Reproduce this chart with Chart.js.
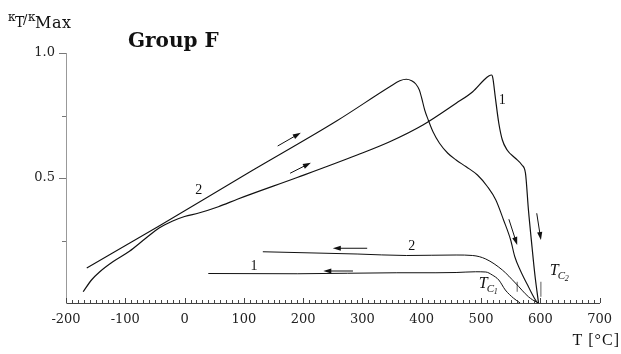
<!DOCTYPE html>
<html>
<head>
<meta charset="utf-8">
<script src="https://cdn.jsdelivr.net/npm/chart.js@4.4.1/dist/chart.umd.min.js"></script>
<style>
  html, body { margin: 0; padding: 0; background: #fff; }
</style>
</head>
<body>
<canvas id="chart" width="621" height="354"></canvas>
<script>
// heating run 1 (T in degC, kappa_T / kappa_max)
const heat1T = [-171, -157, -143, -121, -93, -65, -43, -20, 0, 24, 57, 90, 191, 291, 346, 402, 458, 486, 505, 513, 518, 520, 524, 530, 536, 544, 558, 569, 575, 580, 586, 591, 597];
const heat1K = [0.045, 0.092, 0.125, 0.165, 0.207, 0.260, 0.300, 0.328, 0.346, 0.360, 0.385, 0.416, 0.503, 0.592, 0.645, 0.712, 0.799, 0.845, 0.892, 0.908, 0.912, 0.899, 0.825, 0.719, 0.652, 0.612, 0.579, 0.552, 0.519, 0.372, 0.225, 0.11, 0];

// heating run 2
const heat2T = [-165, -43, 107, 257, 346, 363, 374, 383, 390, 396, 400, 405, 411, 419, 430, 444, 458, 475, 494, 511, 525, 538, 550, 557, 566, 580, 594, 597];
const heat2K = [0.140, 0.308, 0.520, 0.729, 0.865, 0.889, 0.895, 0.889, 0.876, 0.852, 0.819, 0.772, 0.732, 0.685, 0.639, 0.599, 0.572, 0.545, 0.512, 0.465, 0.412, 0.332, 0.252, 0.185, 0.132, 0.065, 0.005, 0];

// cooling runs
const cool1T = [40, 191, 358, 424, 458, 491, 508, 519, 530, 541, 555, 566];
const cool1K = [0.118, 0.117, 0.121, 0.121, 0.122, 0.125, 0.124, 0.112, 0.092, 0.052, 0.019, 0];
const cool2T = [132, 291, 374, 458, 486, 508, 536, 558, 580, 594, 597];
const cool2K = [0.205, 0.196, 0.19, 0.192, 0.19, 0.176, 0.132, 0.080, 0.025, 0.003, 0];

// Curie point markers (short vertical strokes)
const tcT = [561, 601];
const tcLow = [0.045, 0.025];
const tcHigh = [0.085, 0.085];

// arrows: tail -> head
const arrowFromT = [157, 178, 547, 594, 308, 284];
const arrowFromK = [0.628, 0.519, 0.335, 0.359, 0.219, 0.128];
const arrowToT = [196, 213, 561, 601, 250, 234];
const arrowToK = [0.681, 0.561, 0.232, 0.252, 0.219, 0.128];

// run numbers written next to the curves
const runLabels = ['1', '2', '2', '1'];
const runLabelT = [536, 24, 383, 117];
const runLabelK = [0.812, 0.452, 0.228, 0.148];

// Curie temperature labels
const tcNames = ['1', '2'];
const tcLabelT = [496, 616];
const tcLabelK = [0.06, 0.112];

const xTicks = [-200, -100, 0, 100, 200, 300, 400, 500, 600, 700];

function pts(ts, ks) {
  return ts.map((t, i) => ({ x: t, y: ks[i] }));
}

function curve(ts, ks, w) {
  return {
    data: pts(ts, ks),
    showLine: true,
    borderColor: '#111',
    borderWidth: w,
    pointRadius: 0,
    cubicInterpolationMode: 'monotone',
    fill: false
  };
}

const datasets = [
  curve(heat1T, heat1K, 1.2),
  curve(heat2T, heat2K, 1.1),
  curve(cool1T, cool1K, 1),
  curve(cool2T, cool2K, 1)
];
tcT.forEach((t, i) => {
  datasets.push({
    data: [{ x: t, y: tcLow[i] }, { x: t, y: tcHigh[i] }],
    showLine: true, borderColor: '#333', borderWidth: 0.8, pointRadius: 0
  });
});

const extras = {
  id: 'extras',
  afterDraw(chart) {
    const ctx = chart.ctx;
    const x = chart.scales.x, y = chart.scales.y;
    ctx.save();

    // x minor ticks, pointing up into the plot
    ctx.strokeStyle = '#444';
    ctx.lineWidth = 1;
    ctx.beginPath();
    for (let v = x.min; v <= x.max; v += 10) {
      const px = Math.round(x.getPixelForValue(v)) + 0.5;
      const len = v % 100 === 0 ? 5 : 3;
      ctx.moveTo(px, y.bottom);
      ctx.lineTo(px, y.bottom - len);
    }
    ctx.stroke();

    // y ticks, pointing left
    ctx.strokeStyle = '#777';
    ctx.beginPath();
    for (let v = 0.25; v <= 1.0001; v += 0.25) {
      const py = Math.round(y.getPixelForValue(v)) + 0.5;
      const len = Math.abs(v - 0.5) < 1e-6 || Math.abs(v - 1) < 1e-6 ? 7 : 4;
      ctx.moveTo(x.left, py);
      ctx.lineTo(x.left - len, py);
    }
    ctx.stroke();

    // arrows
    ctx.strokeStyle = '#111';
    ctx.fillStyle = '#111';
    ctx.lineWidth = 1;
    arrowFromT.forEach((t, i) => {
      const x0 = x.getPixelForValue(t), y0 = y.getPixelForValue(arrowFromK[i]);
      const x1 = x.getPixelForValue(arrowToT[i]), y1 = y.getPixelForValue(arrowToK[i]);
      const a = Math.atan2(y1 - y0, x1 - x0);
      ctx.beginPath();
      ctx.moveTo(x0, y0);
      ctx.lineTo(x1 - 5 * Math.cos(a), y1 - 5 * Math.sin(a));
      ctx.stroke();
      ctx.beginPath();
      ctx.moveTo(x1, y1);
      ctx.lineTo(x1 - 8 * Math.cos(a) + 2.6 * Math.sin(a), y1 - 8 * Math.sin(a) - 2.6 * Math.cos(a));
      ctx.lineTo(x1 - 8 * Math.cos(a) - 2.6 * Math.sin(a), y1 - 8 * Math.sin(a) + 2.6 * Math.cos(a));
      ctx.closePath();
      ctx.fill();
    });

    // run numbers
    ctx.fillStyle = '#111';
    ctx.font = '14px "Liberation Serif"';
    ctx.textAlign = 'center';
    ctx.textBaseline = 'middle';
    runLabels.forEach((s, i) => {
      ctx.fillText(s, x.getPixelForValue(runLabelT[i]), y.getPixelForValue(runLabelK[i]));
    });

    // T_C labels
    ctx.textAlign = 'left';
    ctx.textBaseline = 'alphabetic';
    tcNames.forEach((n, i) => {
      const px = x.getPixelForValue(tcLabelT[i]), py = y.getPixelForValue(tcLabelK[i]);
      ctx.font = 'italic 16px "Liberation Serif"';
      ctx.fillText('T', px, py);
      ctx.font = 'italic 11px "Liberation Serif"';
      ctx.fillText('C', px + 8, py + 4);
      ctx.font = 'italic 8px "Liberation Serif"';
      ctx.fillText(n, px + 15, py + 6);
    });

    // titles
    ctx.font = 'bold 20px "DejaVu Serif"';
    ctx.fillText('Group F', 128, 47);

    ctx.letterSpacing = '0px';
    ctx.font = '12px "DejaVu Serif"';
    ctx.fillText('\u03ba', 8, 21);
    ctx.font = '14px "DejaVu Serif"';
    ctx.fillText('T', 15, 27);
    ctx.font = '13px "DejaVu Serif"';
    ctx.fillText('/', 23, 24);
    ctx.font = '12px "DejaVu Serif"';
    ctx.fillText('\u03ba', 28, 21);
    ctx.font = '16px "DejaVu Serif"';
    ctx.letterSpacing = '0.5px';
    ctx.fillText('Max', 35, 28);

    ctx.font = '16px "Liberation Serif"';
    ctx.letterSpacing = '1px';
    ctx.textAlign = 'right';
    ctx.fillText('T [\u00b0C]', 620, 345);
    ctx.letterSpacing = '0px';

    ctx.restore();
  }
};

new Chart(document.getElementById('chart'), {
  type: 'scatter',
  data: { datasets: datasets },
  options: {
    responsive: false,
    animation: false,
    events: [],
    layout: { padding: { top: 53, right: 16, left: 0, bottom: 0 } },
    plugins: { legend: { display: false }, tooltip: { enabled: false } },
    scales: {
      x: {
        type: 'linear',
        min: -200,
        max: 700,
        afterBuildTicks: (s) => { s.ticks = xTicks.map(v => ({ value: v })); },
        afterFit: (s) => { s.height = 51; },
        grid: { display: false, drawTicks: false },
        border: { display: true, color: '#444', width: 1 },
        ticks: {
          padding: 9,
          color: '#222',
          font: { family: 'DejaVu Serif', size: 13 },
          maxRotation: 0,
          autoSkip: false
        }
      },
      y: {
        min: 0,
        max: 1,
        afterFit: (s) => { s.width = 66; },
        grid: { display: false, drawTicks: false },
        border: { display: true, color: '#999', width: 1 },
        ticks: {
          stepSize: 0.25,
          padding: 11,
          color: '#222',
          font: { family: 'DejaVu Serif', size: 13 },
          callback: (v) => (v === 0.5 ? '0.5' : v === 1 ? '1.0' : '')
        }
      }
    }
  },
  plugins: [extras]
});
</script>
</body>
</html>
